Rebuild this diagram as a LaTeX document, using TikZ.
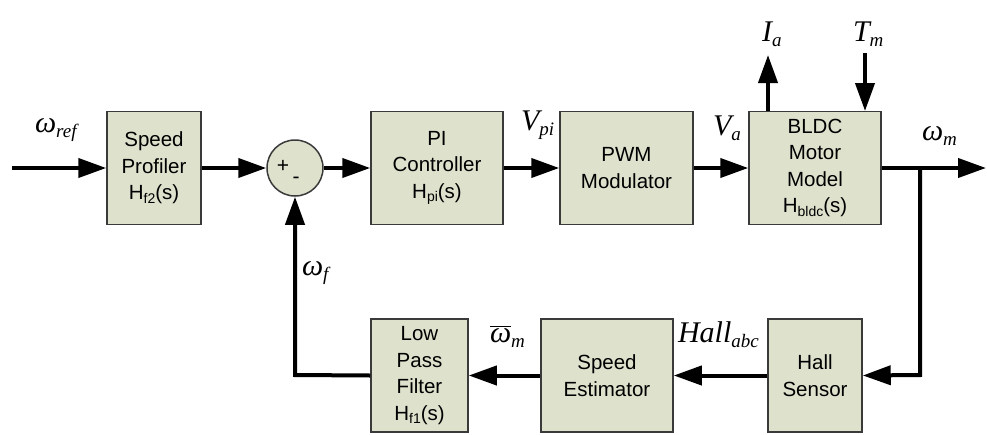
\documentclass[tikz,border=0pt]{standalone}
\usepackage{fontspec}
\setmainfont{Liberation Sans}
\newfontfamily\tms{Liberation Serif}
\usetikzlibrary{arrows.meta}
\definecolor{boxc}{RGB}{222,225,204}
\definecolor{bordc}{RGB}{58,58,58}
\newcommand\boxfont{\fontsize{20.5}{26.5}\selectfont}
\newcommand\subf[1]{\raisebox{-3.5pt}{\fontsize{14}{14}\selectfont #1}}
\newcommand\mbig[1]{{\fontsize{30}{30}\selectfont\tms\itshape #1}}
\newcommand\msub[1]{\raisebox{-5pt}{\fontsize{19}{19}\selectfont\tms\itshape #1}}
\begin{document}
\begin{tikzpicture}[x=1pt,y=-1pt,
  blk/.style={draw=bordc, fill=boxc, line width=1.5pt, align=center, font=\boxfont, inner sep=0pt, minimum height=113pt},
  sig/.style={line width=4pt, -{Triangle[length=28pt,width=19pt]}},
  lbl/.style={anchor=base west, inner sep=0pt, outer sep=0pt}]
\useasboundingbox (0,0) rectangle (987,434);

% blocks
\node[blk, minimum width=94pt] (sp) at (154,168) {Speed\\Profiler\\H\subf{f2}(s)};
\node[draw=bordc, fill=boxc, line width=1.5pt, circle, minimum size=56pt, inner sep=0pt] (sum) at (295,168) {};
\node[font=\fontsize{21}{21}\selectfont, inner sep=0pt] (plus) at (283,166) {+};
\node[font=\fontsize{21}{21}\selectfont, inner sep=0pt] (minus) at (296,180) {-};
\node[blk, minimum width=132pt] (pi) at (437,168) {PI\\Controller\\H\subf{pi}(s)};
\node[blk, minimum width=133pt] (pwm) at (626.5,168) {PWM\\Modulator};
\node[blk, minimum width=132pt] (bldc) at (815,168) {BLDC\\Motor\\Model\\H\subf{bldc}(s)};
\node[blk, minimum width=94pt] (hall) at (815,375.5) {Hall\\Sensor};
\node[blk, minimum width=132pt] (est) at (607,375.5) {Speed\\Estimator};
\node[blk, minimum width=97pt] (lpf) at (419.5,375.5) {Low\\Pass\\Filter\\H\subf{f1}(s)};

% coordinates
\coordinate (in) at (12,168);
\coordinate (out) at (986,168);
\coordinate (br) at (920,168);
\coordinate (brd) at (920,375);
\coordinate (fbl) at (295,375);
\coordinate (iaS) at (768,111);
\coordinate (iaE) at (768,55);
\coordinate (tmS) at (865,53);
\coordinate (tmE) at (865,111);

% connectors
\draw[sig] (in) -- (sp.west);
\draw[sig] (sp.east) -- (sum.west);
\draw[sig] (sum.east) -- (pi.west);
\draw[sig] (pi.east) -- (pwm.west);
\draw[sig] (pwm.east) -- (bldc.west);
\draw[sig] (bldc.east) -- (out);
\draw[sig] (br) -- (brd) -- (hall.east);
\draw[sig] (hall.west) -- (est.east);
\draw[sig] (est.west) -- (lpf.east);
\draw[sig] (lpf.west) -- (fbl) -- (sum.south);
\draw[sig] (iaS) -- (iaE);
\draw[sig] (tmS) -- (tmE);

% labels
\node[lbl] (lref) at (35,132) {\mbig{ω}\msub{ref}};
\node[lbl] (lvpi) at (521,130) {\mbig{V}\msub{pi}};
\node[lbl] (lva) at (713,135) {\mbig{V}\msub{a}};
\node[lbl] (lwm) at (922,140) {\mbig{ω}\msub{m}};
\node[lbl] (lia) at (762,41) {\mbig{I}\msub{a}};
\node[lbl] (ltm) at (853,41) {\mbig{T}\msub{m}};
\node[lbl] (lwf) at (302,275) {\mbig{ω}\msub{f}};
\node[lbl] (lwbar) at (490,342) {{\fontsize{30}{30}\selectfont$\overline{\hbox{\tms\itshape ω}}$}\msub{m}};
\node[lbl] (lhall) at (678,342) {\mbig{Hall}\msub{abc}};
\end{tikzpicture}
\end{document}
